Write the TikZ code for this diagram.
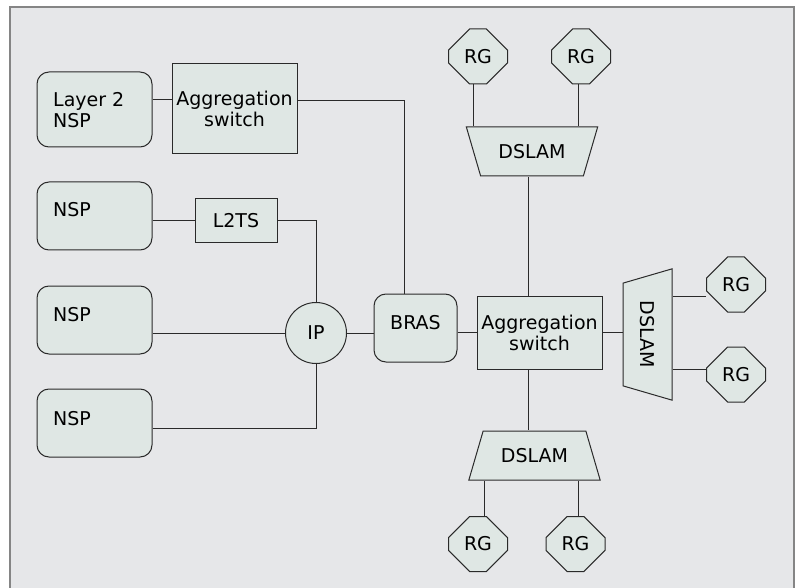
\documentclass[tikz,border=0pt]{standalone}
\usepackage{fontspec}
\setmainfont{DejaVu Sans}
\usetikzlibrary{positioning,shapes.geometric,shapes.misc}

\definecolor{bggray}{HTML}{E6E7E9}
\definecolor{nodefill}{HTML}{DFE7E4}
\definecolor{edgegray}{HTML}{2A2A2A}
\definecolor{framegray}{HTML}{858585}

\begin{document}
\begin{tikzpicture}[x=1pt, y=-1pt,
  every node/.style={font=\fontsize{19}{21}\selectfont},
  box/.style={rectangle, draw=edgegray, line width=1pt, fill=nodefill, inner sep=0pt},
  nspbox/.style={box, rounded corners=12pt, minimum width=115pt, minimum height=68pt},
  switchbox/.style={box, minimum width=125pt, align=center},
  rgbox/.style={box, chamfered rectangle, chamfered rectangle xsep=14pt, chamfered rectangle ysep=14pt, minimum width=59pt, minimum height=55pt},
  dslamdown/.style={box, trapezium, trapezium stretches=true, trapezium left angle=57, trapezium right angle=57, minimum width=132pt, minimum height=49pt},
  dslamup/.style={dslamdown, shape border rotate=180},
  lbl/.style={inner sep=0pt, align=left},
  link/.style={draw=edgegray, line width=1pt}
]
\useasboundingbox (0,0) rectangle (798,588);
\fill[bggray] (10,7) rectangle (794,588);
\draw[framegray, line width=2pt] (10,588) -- (10,7) -- (794,7) -- (794,588);

% left column
\node[nspbox, minimum height=75pt] (l2nsp) at (94.5,109.5) {};
\node[lbl, anchor=north west] at (53,92) {Layer 2\\NSP};
\node[nspbox] (nsp1) at (94.5,216) {};
\node[lbl, anchor=base west] at (53,217) {NSP};
\node[nspbox] (nsp2) at (94.5,320) {};
\node[lbl, anchor=base west] at (53,321) {NSP};
\node[nspbox] (nsp3) at (94.5,423) {};
\node[lbl, anchor=base west] at (53,425) {NSP};

\node[switchbox, minimum height=90pt] (aggT) at (234.5,109) {Aggregation\\switch};
\node[box, minimum width=82pt, minimum height=44pt] (l2ts) at (236,221) {L2TS};
\node[box, circle, minimum size=61pt] (ip) at (316,333) {IP};
\node[box, rounded corners=12pt, minimum width=83pt, minimum height=68pt, text depth=12pt] (bras) at (415.5,328) {BRAS};
\node[switchbox, minimum height=73pt] (aggC) at (539.5,332.5) {Aggregation\\switch};

% access side
\node[dslamup] (dslamT) at (532,151.5) {DSLAM};
\node[dslamup, rotate=-90] (dslamR) at (647.5,334.5) {DSLAM};
\node[dslamdown] (dslamB) at (534.5,455.5) {DSLAM};
\node[rgbox] (rgT1) at (478,56.5) {RG};
\node[rgbox] (rgT2) at (581,56.5) {RG};
\node[rgbox] (rgR1) at (736,284.5) {RG};
\node[rgbox] (rgR2) at (736,374.5) {RG};
\node[rgbox] (rgB1) at (478,544) {RG};
\node[rgbox] (rgB2) at (575.5,544) {RG};

% links
\draw[link] ([yshift=9.5pt]l2nsp.east) -- ([yshift=9.5pt]l2nsp.east -| aggT.west);
\draw[link] ([yshift=8pt]aggT.east) -| ([xshift=-11.5pt]bras.north);
\draw[link] (l2ts.west -| nsp1.east) -- (l2ts.west);
\draw[link] (l2ts.east) -| (ip.north);
\draw[link] (ip.west -| nsp2.east) -- (ip.west);
\draw[link] ([yshift=-5pt]nsp3.east) -| (ip.south);
\draw[link] (ip.east) -- (ip.east -| bras.west);
\draw[link] (aggC.west -| bras.east) -- (aggC.west);
\draw[link] ([xshift=-11pt]aggC.north) -- ([xshift=-11pt]aggC.north |- dslamT.south);
\draw[link] ([xshift=-11pt]aggC.south) -- ([xshift=-11pt]aggC.south |- dslamB.north);
\draw[link] (aggC.east) -- (aggC.east -| dslamR.south);
\draw[link] ([xshift=-5pt]rgT1.south) -- ([xshift=-5pt]rgT1.south |- dslamT.north);
\draw[link] ([xshift=-3pt]rgT2.south) -- ([xshift=-3pt]rgT2.south |- dslamT.north);
\draw[link] ([yshift=-11.5pt]rgR1.west) -- ([yshift=-11.5pt]rgR1.west -| dslamR.north);
\draw[link] ([yshift=5.5pt]rgR2.west) -- ([yshift=5.5pt]rgR2.west -| dslamR.north);
\draw[link] ([xshift=6pt]rgB1.north) -- ([xshift=6pt]rgB1.north |- dslamB.south);
\draw[link] ([xshift=2.5pt]rgB2.north) -- ([xshift=2.5pt]rgB2.north |- dslamB.south);

\end{tikzpicture}
\end{document}
